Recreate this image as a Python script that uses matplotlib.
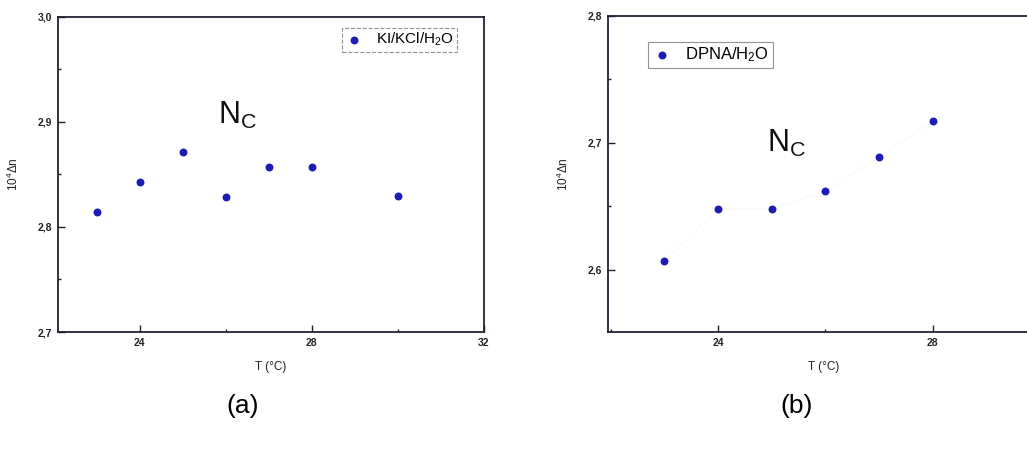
import numpy as np
import matplotlib.pyplot as plt
from matplotlib.ticker import MultipleLocator, FuncFormatter

plt.rcParams['font.family'] = ['Liberation Sans', 'DejaVu Sans']
plt.rcParams['mathtext.fontset'] = 'custom'
plt.rcParams['mathtext.rm'] = 'Liberation Sans'
plt.rcParams['mathtext.it'] = 'Liberation Sans'

# panel (a): KI/KCl/H2O
T_a = [23, 24, 25, 26, 27, 28, 30]
dn_a = [2.814, 2.843, 2.871, 2.829, 2.857, 2.857, 2.830]

# panel (b): DPNA/H2O
T_b = [23, 24, 25, 26, 27, 28]
dn_b = [2.607, 2.648, 2.648, 2.662, 2.689, 2.717]

dot_col = '#1c1cb4'
W, H = 1027, 451
fig = plt.figure(figsize=(W / 100, H / 100), dpi=100)

def px(x0, y0, x1, y1):
    # pixel box -> figure fraction
    return [x0 / W, 1 - y1 / H, (x1 - x0) / W, (y1 - y0) / H]

comma = FuncFormatter(lambda v, p: ('%.1f' % v).replace('.', ','))

def style(ax, xmaj, ymaj, ymin):
    ax.xaxis.set_major_locator(MultipleLocator(xmaj))
    ax.xaxis.set_minor_locator(MultipleLocator(xmaj / 2))
    ax.yaxis.set_major_locator(MultipleLocator(ymaj))
    ax.yaxis.set_minor_locator(MultipleLocator(ymin))
    ax.yaxis.set_major_formatter(comma)
    ax.tick_params(which='both', direction='in', width=1, colors='#222222',
                   labelsize=7.5)
    ax.tick_params(which='major', length=5, pad=4)
    ax.tick_params(which='minor', length=2.5)
    for lab in ax.get_xticklabels() + ax.get_yticklabels():
        lab.set_fontweight('bold')
    for s in ax.spines.values():
        s.set_linewidth(1.3)
        s.set_color('#222233')
    ax.set_xlabel('T (°C)', fontsize=8.5, color='#222222', labelpad=10)

# ---- (a)
ax1 = fig.add_axes(px(58, 17, 484, 332))
ax1.scatter(T_a, dn_a, s=22, color=dot_col, zorder=3, label='KI/KCl/H$_2$O')
ax1.set_xlim(22.1, 32)
ax1.set_ylim(2.7, 3.0)
style(ax1, 4, 0.1, 0.05)
ax1.set_ylabel('10$^4$Δn', fontsize=8.5, color='#222222', labelpad=12)
ax1.text(0.375, 0.66, r'$\mathregular{N_C}$', transform=ax1.transAxes,
         fontsize=22, color='#111111')
leg1 = ax1.legend(loc='upper left', bbox_to_anchor=(342 / W, 1 - 28 / H),
                  bbox_transform=fig.transFigure, borderaxespad=0,
                  fontsize=11, handletextpad=0.8, borderpad=0.2,
                  fancybox=False, handlelength=1.2, markerscale=1.0)
leg1.get_frame().set_edgecolor('#777777')
leg1.get_frame().set_linestyle('--')
leg1.get_frame().set_linewidth(0.8)

# ---- (b)  (right part is cut off by the page edge)
ax2 = fig.add_axes(px(608, 16, 1040, 332))
ax2.plot(T_b, dn_b, color='#f4ecea', lw=0.8, ls=':', zorder=1)
ax2.scatter(T_b, dn_b, s=22, color=dot_col, zorder=3, label='DPNA/H$_2$O')
ax2.set_xlim(21.95, 30.0)
ax2.set_ylim(2.551, 2.8)
style(ax2, 4, 0.1, 0.05)
ax2.set_ylabel('10$^4$Δn', fontsize=8.5, color='#222222', labelpad=12)
ax2.text(0.368, 0.57, r'$\mathregular{N_C}$', transform=ax2.transAxes,
         fontsize=22, color='#111111')
leg2 = ax2.legend(loc='upper left', bbox_to_anchor=(648 / W, 1 - 42 / H),
                  bbox_transform=fig.transFigure, borderaxespad=0,
                  fontsize=12, handletextpad=0.8, borderpad=0.22,
                  fancybox=False, handlelength=1.2, markerscale=1.0)
leg2.get_frame().set_edgecolor('#777777')
leg2.get_frame().set_linewidth(0.8)

fig.text(243 / W, 1 - 406 / H, '(a)', fontsize=19, ha='center', va='center')
fig.text(797 / W, 1 - 406 / H, '(b)', fontsize=19, ha='center', va='center')

fig.savefig('out.png', dpi=100)
